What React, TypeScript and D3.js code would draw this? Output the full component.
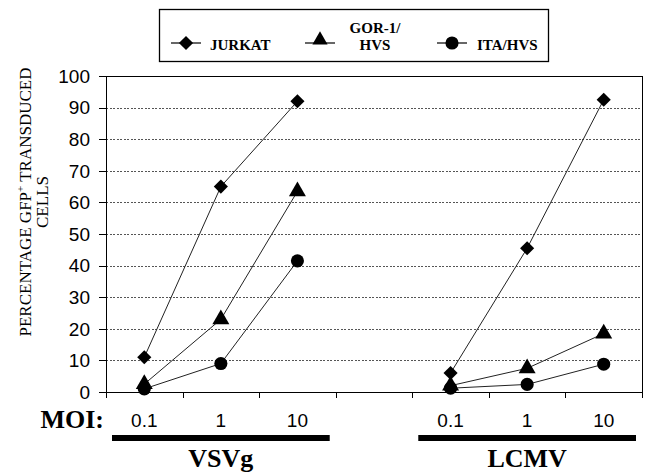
import React from 'react';
import * as d3 from 'd3';

// categories along x: three MOIs per vector, with an empty slot between the groups
const groupNames = ['VSVg', 'LCMV'];
const moiLabels = ['0.1', '1', '10'];
const xKeys = ['VSVg-0.1', 'VSVg-1', 'VSVg-10', 'gap', 'LCMV-0.1', 'LCMV-1', 'LCMV-10'];
const yTicks = [0, 10, 20, 30, 40, 50, 60, 70, 80, 90, 100];

// percentage GFP+ cells
const jurkatVSVg = [11, 65, 92];
const jurkatLCMV = [6, 45.5, 92.5];
const gorVSVg = [2.5, 23, 63.5];
const gorLCMV = [2, 7.5, 18.5];
const itaVSVg = [1, 9, 41.5];
const itaLCMV = [1.2, 2.4, 8.8];

const series = [
  { name: 'JURKAT', symbol: 'diamond', VSVg: jurkatVSVg, LCMV: jurkatLCMV },
  { name: 'GOR-1/HVS', symbol: 'triangle', VSVg: gorVSVg, LCMV: gorLCMV },
  { name: 'ITA/HVS', symbol: 'circle', VSVg: itaVSVg, LCMV: itaLCMV },
];

const W = 647;
const H = 475;
const plot = { left: 106, right: 642, top: 76, bottom: 392 };
const serif = '"Liberation Serif", "Times New Roman", serif';
const sans = '"Liberation Sans", Arial, sans-serif';

const markerPath = (kind: string, scale = 1) => {
  if (kind === 'diamond') return d3.symbol(d3.symbolSquare, 100 * scale)()!;
  if (kind === 'triangle') return d3.symbol(d3.symbolTriangle, 125 * scale)()!;
  return d3.symbol(d3.symbolCircle, 135 * scale)()!;
};

const Marker = ({ kind, cx, cy, scale = 1 }: { kind: string; cx: number; cy: number; scale?: number }) => (
  <path
    d={markerPath(kind, scale)}
    transform={`translate(${cx},${cy})${kind === 'diamond' ? ' rotate(45)' : ''}`}
    fill="#000"
  />
);

// snap a horizontal/vertical line to the pixel grid
const crisp = (v: number) => Math.round(v) + 0.5;

export default function App() {
  const x = d3.scaleBand<string>().domain(xKeys).range([plot.left, plot.right]);
  const y = d3.scaleLinear().domain([0, 100]).range([plot.bottom, plot.top]);
  const bw = x.bandwidth();
  const cx = (key: string) => (x(key) ?? 0) + bw / 2;
  const line = d3.line<[number, number]>();

  const tickXs = xKeys.map((k) => x(k)!).concat([plot.right]);

  return (
    <svg width={W} height={H} style={{ position: 'absolute', left: 0, top: 0, background: '#fff' }}>
      <rect width={W} height={H} fill="#fff" />

      {/* legend */}
      <g>
        <rect x={159.5} y={9.5} width={389} height={52} fill="none" stroke="#000" strokeWidth={1.3} />
        {series.map((s, i) => {
          const lx = [186, 320, 452][i];
          const ly = 43;
          return (
            <g key={s.name}>
              <line x1={lx - 15} x2={lx + 15} y1={ly} y2={ly} stroke="#000" strokeWidth={1.2} />
              <Marker kind={s.symbol} cx={lx} cy={s.symbol === 'triangle' ? ly - 3 : ly} scale={s.symbol === 'triangle' ? 0.8 : 1} />
            </g>
          );
        })}
        <text x={210} y={50} fontFamily={serif} fontWeight="bold" fontSize={15}>JURKAT</text>
        <text x={375} y={33} fontFamily={serif} fontWeight="bold" fontSize={15} textAnchor="middle">GOR-1/</text>
        <text x={375} y={50} fontFamily={serif} fontWeight="bold" fontSize={15} textAnchor="middle">HVS</text>
        <text x={477} y={50} fontFamily={serif} fontWeight="bold" fontSize={15}>ITA/HVS</text>
      </g>

      {/* gridlines */}
      {yTicks.filter((t) => t > 0 && t < 100).map((t) => (
        <line key={t} x1={plot.left} x2={plot.right} y1={crisp(y(t))} y2={crisp(y(t))}
          stroke="#555" strokeDasharray="2,1.5" shapeRendering="crispEdges" />
      ))}

      {/* frame */}
      <g stroke="#000" shapeRendering="crispEdges">
        <line x1={plot.left} x2={plot.right} y1={crisp(plot.top)} y2={crisp(plot.top)} />
        <line x1={crisp(plot.right)} x2={crisp(plot.right)} y1={plot.top} y2={plot.bottom} />
        <line x1={crisp(plot.left)} x2={crisp(plot.left)} y1={plot.top} y2={plot.bottom} />
        <line x1={plot.left} x2={plot.right} y1={crisp(plot.bottom)} y2={crisp(plot.bottom)} />
      </g>

      {/* y axis */}
      {yTicks.map((t) => (
        <g key={t}>
          <line x1={plot.left - 7} x2={plot.left} y1={crisp(y(t))} y2={crisp(y(t))} stroke="#000" shapeRendering="crispEdges" />
          <text x={90} y={y(t)} dy="0.36em" textAnchor="end" fontFamily={sans} fontSize={19}>{t}</text>
        </g>
      ))}
      <text transform="translate(31,202) rotate(-90)" textAnchor="middle" fontFamily={serif} fontSize={17}>
        PERCENTAGE GFP<tspan fontSize={11} dy={-7}>+</tspan><tspan dy={7}> TRANSDUCED</tspan>
      </text>
      <text transform="translate(48,202) rotate(-90)" textAnchor="middle" fontFamily={serif} fontSize={17}>CELLS</text>

      {/* x axis */}
      {tickXs.map((tx, i) => (
        <line key={i} x1={crisp(tx)} x2={crisp(tx)} y1={plot.bottom} y2={plot.bottom + 6} stroke="#000" shapeRendering="crispEdges" />
      ))}
      <text x={104} y={428} textAnchor="end" fontFamily={serif} fontWeight="bold" fontSize={26}>MOI:</text>
      {groupNames.map((g) => {
        const first = x(`${g}-${moiLabels[0]}`)!;
        const last = x(`${g}-${moiLabels[moiLabels.length - 1]}`)! + bw;
        return (
          <g key={g}>
            {moiLabels.map((m) => (
              <text key={m} x={cx(`${g}-${m}`)} y={427} textAnchor="middle" fontFamily={sans} fontSize={19}>{m}</text>
            ))}
            <rect x={first + 6} y={435} width={last - first - 12} height={6} fill="#000" />
            <text x={cx(`${g}-${moiLabels[1]}`)} y={467} textAnchor="middle" fontFamily={serif} fontWeight="bold" fontSize={26}>{g}</text>
          </g>
        );
      })}

      {/* series */}
      {series.map((s) => (
        <g key={s.name}>
          {groupNames.map((g) => {
            const vals = (s as any)[g] as number[];
            const pts = moiLabels.map((m, i) => [cx(`${g}-${m}`), y(vals[i])] as [number, number]);
            return (
              <g key={g}>
                <path d={line(pts)!} fill="none" stroke="#222" strokeWidth={1} />
                {pts.map(([px, py], i) => (
                  <Marker key={i} kind={s.symbol} cx={px} cy={py} />
                ))}
              </g>
            );
          })}
        </g>
      ))}
    </svg>
  );
}
